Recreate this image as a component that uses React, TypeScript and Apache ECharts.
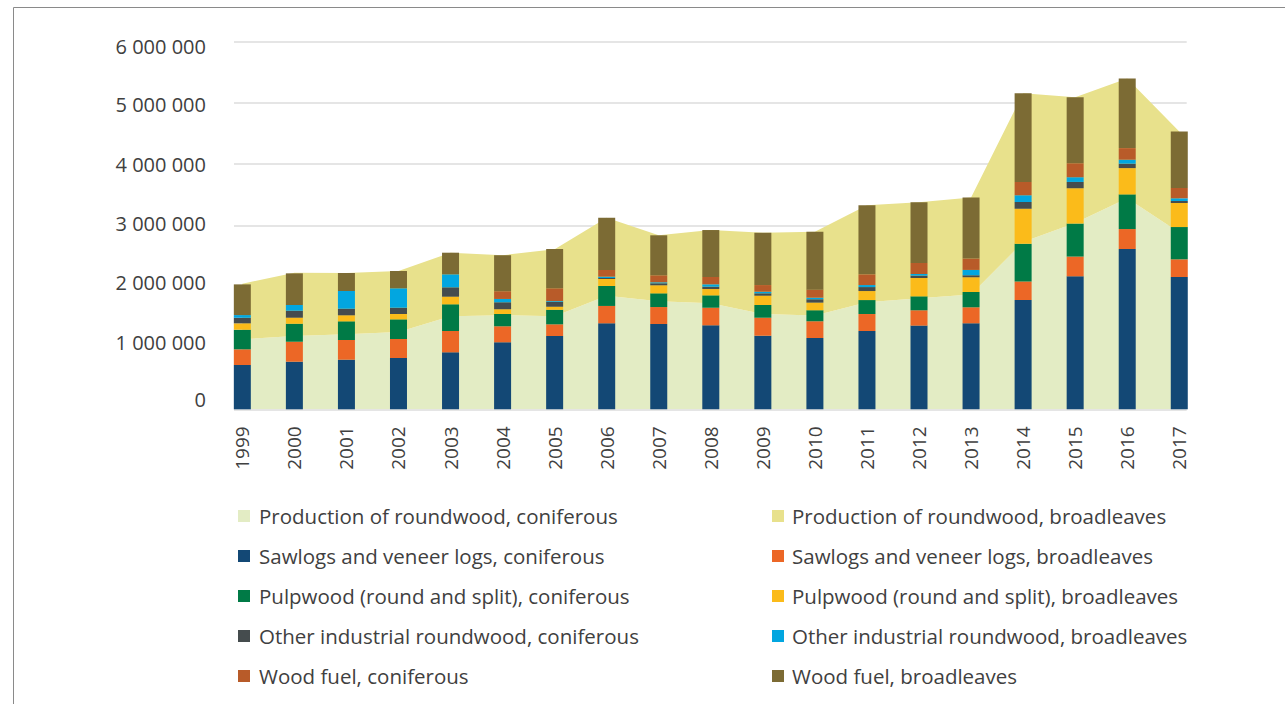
import React, { useEffect, useRef } from "react";
import * as echarts from "echarts";

const years = ["1999","2000","2001","2002","2003","2004","2005","2006","2007","2008","2009","2010","2011","2012","2013","2014","2015","2016","2017"];

const prodConiferous = [1144000,1195000,1223000,1261000,1519000,1535000,1518000,1855000,1763000,1730000,1556000,1530000,1746000,1813000,1873000,2729000,3041000,3443000,2887000];
const prodBroadleaves = [905000,1034000,1002000,996000,1037000,980000,1093000,1273000,1077000,1196000,1326000,1370000,1583000,1565000,1584000,2428000,2052000,1958000,1646000];

const sawCon = [723000,777000,810000,837000,930000,1094000,1196000,1404000,1392000,1371000,1201000,1164000,1278000,1366000,1404000,1784000,2171000,2616000,2159000];
const sawBro = [256000,326000,321000,310000,348000,261000,191000,283000,277000,287000,294000,273000,277000,250000,261000,300000,322000,326000,289000];
const pulpCon = [320000,294000,305000,321000,436000,201000,238000,326000,224000,202000,207000,180000,228000,228000,250000,620000,539000,566000,527000];
const pulpBro = [104000,98000,98000,87000,124000,77000,49000,114000,131000,103000,152000,124000,147000,299000,240000,571000,576000,429000,392000];
const otherCon = [91000,114000,108000,103000,153000,114000,82000,16000,33000,38000,39000,55000,65000,39000,33000,108000,103000,72000,33000];
const otherBro = [44000,93000,289000,317000,212000,54000,12000,22000,16000,39000,26000,26000,33000,26000,87000,109000,77000,65000,44000];
const fuelCon = [0,0,0,0,0,126000,207000,109000,114000,119000,109000,131000,175000,180000,186000,217000,228000,189000,168000];
const fuelBro = [501000,517000,294000,282000,353000,588000,641000,854000,653000,767000,854000,947000,1126000,990000,996000,1448000,1077000,1138000,921000];

const yTicks = [0, 1000000, 2000000, 3000000, 4000000, 5000000, 6000000];

const names = {
  prodCon: "Production of roundwood, coniferous",
  prodBro: "Production of roundwood, broadleaves",
  sawCon: "Sawlogs and veneer logs, coniferous",
  sawBro: "Sawlogs and veneer logs, broadleaves",
  pulpCon: "Pulpwood (round and split), coniferous",
  pulpBro: "Pulpwood (round and split), broadleaves",
  otherCon: "Other industrial roundwood, coniferous",
  otherBro: "Other industrial roundwood, broadleaves",
  fuelCon: "Wood fuel, coniferous",
  fuelBro: "Wood fuel, broadleaves",
};

const colors = {
  prodCon: "#e3ecc4",
  prodBro: "#e8e18c",
  sawCon: "#134875",
  sawBro: "#ec6726",
  pulpCon: "#007a46",
  pulpBro: "#fbbb1a",
  otherCon: "#454c4e",
  otherBro: "#02a6e0",
  fuelCon: "#b85b29",
  fuelBro: "#7c6b34",
};

const FONT = "Open Sans";
const TEXT = "#404040";

export default function App() {
  const ref = useRef<HTMLDivElement>(null);
  useEffect(() => {
    if (!ref.current) return;
    const chart = echarts.init(ref.current, null, { renderer: "svg" });
    const fmt = (v: number) => String(v).replace(/\B(?=(\d{3})+(?!\d))/g, " ");
    // label vertical offsets (reference labels are slightly compressed vs gridlines)
    const pads: number[][] = [
      [0, 0, 20, 0],
      [0, 0, 12, 0],
      [0, 0, 8, 0],
      [0, 0, 4, 0],
      [0, 0, 0, 0],
      [4, 0, 0, 0],
      [9, 0, 0, 0],
    ];
    const rich: any = {};
    pads.forEach((p, i) => {
      rich["o" + i] = { fontFamily: FONT, fontSize: 20, color: TEXT, padding: p };
    });
    const area = (key: string, data: number[]) => ({
      name: (names as any)[key],
      type: "line",
      stack: "prod",
      xAxisIndex: 0,
      yAxisIndex: 0,
      data,
      symbol: "none",
      smooth: false,
      lineStyle: { width: 0, color: (colors as any)[key] },
      itemStyle: { color: (colors as any)[key] },
      areaStyle: { color: (colors as any)[key], opacity: 1 },
      z: 1,
    });
    const bar = (key: string, data: number[]) => ({
      name: (names as any)[key],
      type: "bar",
      stack: "bars",
      xAxisIndex: 0,
      yAxisIndex: 0,
      data,
      barWidth: 17,
      itemStyle: { color: (colors as any)[key] },
      z: 3,
    });
    const legendBase = {
      orient: "vertical",
      icon: "rect",
      itemWidth: 12,
      itemHeight: 12,
      itemGap: 19,
      selectedMode: false,
    };
    const legendText = (padLeft: number) => ({
      fontFamily: FONT,
      fontSize: 20.5,
      color: TEXT,
      lineHeight: 20,
      padding: [0, 0, 0, padLeft],
    });
    chart.setOption({
      animation: false,
      backgroundColor: "#ffffff",
      graphic: [
        {
          type: "rect",
          shape: { x: 13.5, y: 7.5, width: 1400, height: 800 },
          style: { fill: "none", stroke: "#8a8a8a", lineWidth: 1 },
          silent: true,
        },
      ],
      grid: [
        { left: 216.3, right: 79.7, top: 41.7, bottom: 294.7, containLabel: false },
        { left: 234, right: 98.3, top: 41.7, bottom: 294.7, containLabel: false },
      ],
      legend: [
        {
          ...legendBase,
          left: 233,
          top: 500.5,
          textStyle: legendText(4),
          data: [names.prodCon, names.sawCon, names.pulpCon, names.otherCon, names.fuelCon],
        },
        {
          ...legendBase,
          left: 767,
          top: 500.5,
          textStyle: legendText(3),
          data: [names.prodBro, names.sawBro, names.pulpBro, names.otherBro, names.fuelBro],
        },
      ],
      xAxis: [
        {
          type: "category",
          gridIndex: 0,
          data: years,
          boundaryGap: true,
          axisLine: { show: false },
          axisTick: { show: false },
          axisLabel: { rotate: 90, margin: 17, fontFamily: FONT, fontSize: 19, color: TEXT },
        },
        { type: "value", gridIndex: 1, min: 0, max: 1, show: false },
      ],
      yAxis: [
        { type: "value", gridIndex: 0, min: 0, max: 6000000, interval: 1000000, show: false },
        {
          type: "value",
          gridIndex: 1,
          min: yTicks[0],
          max: yTicks[yTicks.length - 1],
          interval: 1000000,
          axisLine: { show: false },
          axisTick: { show: false },
          splitLine: { lineStyle: { color: "#dcdcdc", width: 1.5 } },
          axisLabel: {
            margin: 28,
            fontFamily: FONT,
            fontSize: 20,
            color: TEXT,
            formatter: (v: number) => {
              const i = yTicks.indexOf(v);
              return "{o" + (i < 0 ? 4 : i) + "|" + fmt(v) + "}";
            },
            rich,
          },
        },
      ],
      series: [
        area("prodCon", prodConiferous),
        area("prodBro", prodBroadleaves),
        bar("sawCon", sawCon),
        bar("sawBro", sawBro),
        bar("pulpCon", pulpCon),
        bar("pulpBro", pulpBro),
        bar("otherCon", otherCon),
        bar("otherBro", otherBro),
        bar("fuelCon", fuelCon),
        bar("fuelBro", fuelBro),
      ],
    });
    return () => chart.dispose();
  }, []);
  return (
    <div
      ref={ref}
      style={{ position: "fixed", left: 0, top: 0, width: 1285, height: 704 }}
    />
  );
}
